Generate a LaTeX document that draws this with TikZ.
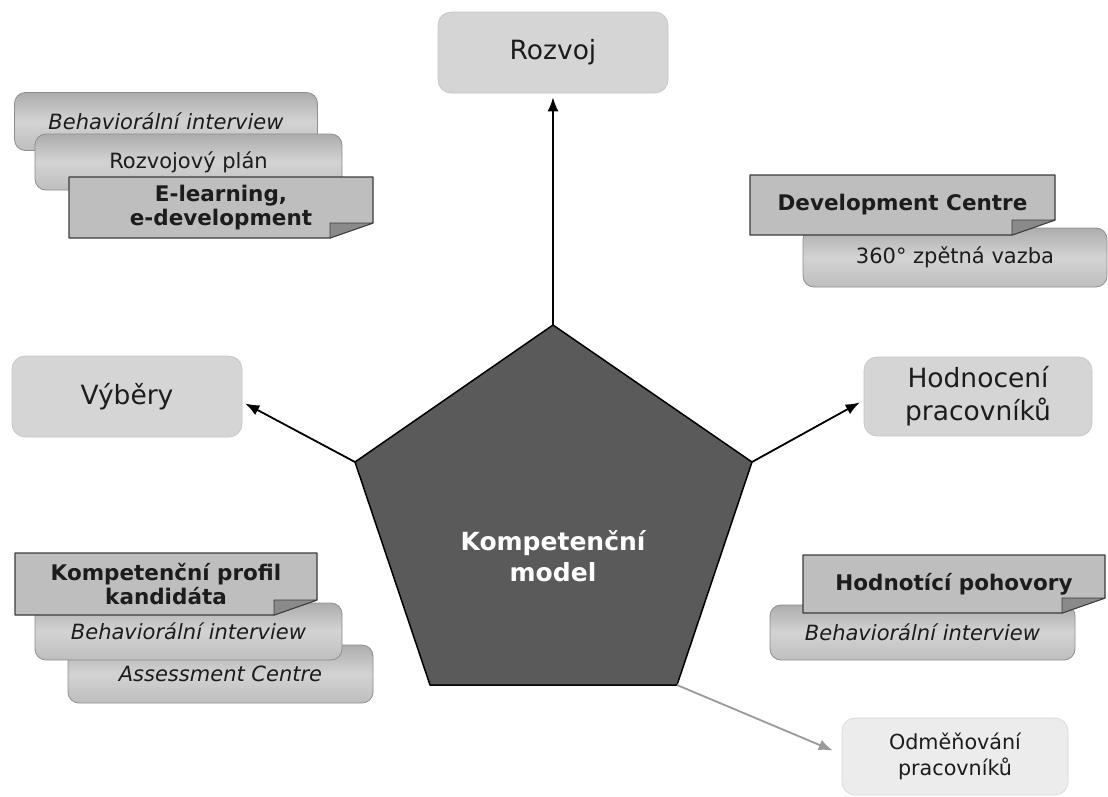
\documentclass[tikz,border=0pt]{standalone}
\usepackage{fontspec}
\setmainfont{DejaVu Sans}
\usetikzlibrary{calc,arrows.meta}
\definecolor{mainfill}{HTML}{D5D5D5}
\definecolor{mainedge}{HTML}{C4C4C4}
\definecolor{lightfill}{HTML}{ECECEC}
\definecolor{lightedge}{HTML}{D6D6D6}
\definecolor{stacktop}{HTML}{ADADAD}
\definecolor{stackmid}{HTML}{D3D3D3}
\definecolor{stackbot}{HTML}{BEBEBE}
\definecolor{stackedge}{HTML}{8E8E8E}
\definecolor{foldfill}{HTML}{BEBEBE}
\definecolor{foldedge}{HTML}{3C3C3C}
\definecolor{folddark}{HTML}{8A8A8A}
\definecolor{pentfill}{HTML}{5A5A5A}
\definecolor{grayarrow}{HTML}{9A9A9A}
\definecolor{txt}{HTML}{1C1C1C}
\newcommand\foldbox[6]{%
  \filldraw[fill=foldfill,draw=foldedge,line width=1.2pt,line join=round]
    (#2,#3) -- (#4,#3) -- (#4,#5-15) -- (#4-43,#5) -- (#2,#5) -- cycle;
  \filldraw[fill=folddark,draw=foldedge,line width=0.8pt,line join=round]
    (#4-43,#5-15) -- (#4,#5-15) -- (#4-43,#5) -- cycle;
  \node[foldtext] (#1) at ({(#2+#4)/2},{(#3+#5)/2}) {#6};
}
\begin{document}
\begin{tikzpicture}[x=1pt,y=-1pt,
  mainbox/.style={fill=mainfill,draw=mainedge,line width=0.6pt,rounded corners=13pt,
    align=center,inner sep=0pt,text=txt,font=\fontsize{26.5}{33}\selectfont},
  lightbox/.style={fill=lightfill,draw=lightedge,line width=0.6pt,rounded corners=13pt,
    align=center,inner sep=0pt,text=txt,font=\fontsize{20.7}{26}\selectfont},
  stackbox/.style={top color=stacktop,bottom color=stackbot,middle color=stackmid,
    draw=stackedge,line width=0.8pt,rounded corners=11pt,inner sep=0pt,align=center,
    text=txt,font=\fontsize{21}{24}\selectfont},
  foldtext/.style={inner sep=0pt,align=center,text=txt,font=\fontsize{21.5}{23.5}\selectfont\bfseries},
  arr/.style={draw=black,line width=1.8pt,-{Latex[length=14pt,width=11pt]}},
  grayarr/.style={draw=grayarrow,line width=1.8pt,-{Latex[length=14pt,width=11pt]}},
  kmtext/.style={text=white,align=center,inner sep=0pt,font=\fontsize{25}{31}\selectfont\bfseries}
]
\useasboundingbox (0,0) rectangle (1108,796);
\fill[white] (0,0) rectangle (1108,796);

% main boxes
\node[mainbox,minimum width=230,minimum height=81] (rozvoj) at (553,52.5) {Rozvoj};
\node[mainbox,minimum width=230,minimum height=81] (vyb) at (127,396.5) {Výběry};
\node[mainbox,minimum width=228,minimum height=79] (hod) at (978,396.5) {Hodnocení\\pracovníků};
\node[lightbox,minimum width=226,minimum height=77] (odm) at (955,756.5) {Odměňování\\pracovníků};

% pentagon
\coordinate (pt) at (553,325);
\coordinate (pr) at (752,462);
\coordinate (pbr) at (677,685);
\coordinate (pbl) at (430,685);
\coordinate (pl) at (355,462);
\filldraw[fill=pentfill,draw=black,line width=1.5pt,line join=round]
  (pt) -- (pr) -- (pbr) -- (pbl) -- (pl) -- cycle;
\node[kmtext] (km) at (553,556) {Kompetenční\\model};

% connectors
\draw[arr] (pt) -- ($(pt |- rozvoj.south)+(0,4)$);
\draw[arr] (pl) -- ($(vyb.east)+(3,7)$);
\draw[arr] (pr) -- ($(hod.west)+(-4,6)$);
\draw[grayarr] (pbr) -- ($(odm.west)+(-9,-6)$);

% top-left stack
\node[stackbox,minimum width=303,minimum height=58] (tl1) at (166,121.5) {\itshape Behaviorální interview};
\node[stackbox,minimum width=307,minimum height=56] (tl2) at (188.5,162) {\raisebox{4pt}{Rozvojový plán}};
\foldbox{tl3}{69}{177}{373}{238}{E-learning,\\e-development}

% top-right stack
\node[stackbox,minimum width=304,minimum height=59] (tr2) at (955,257.5) {\raisebox{-3pt}{360° zpětná vazba}};
\foldbox{tr1}{750}{175}{1055}{235}{Development Centre}

% bottom-left stack
\node[stackbox,minimum width=305,minimum height=58] (bl3) at (220.5,674) {\itshape Assessment Centre};
\node[stackbox,minimum width=307,minimum height=57] (bl2) at (188.5,631.5) {\raisebox{-3pt}{\itshape Behaviorální interview}};
\foldbox{bl1}{15}{553}{317}{615}{Kompetenční profil\\kandidáta}

% bottom-right stack
\node[stackbox,minimum width=305,minimum height=55] (br2) at (922.5,632.5) {\raisebox{-4pt}{\itshape Behaviorální interview}};
\foldbox{br1}{803}{555}{1105}{613}{Hodnotící pohovory}
\end{tikzpicture}
\end{document}
